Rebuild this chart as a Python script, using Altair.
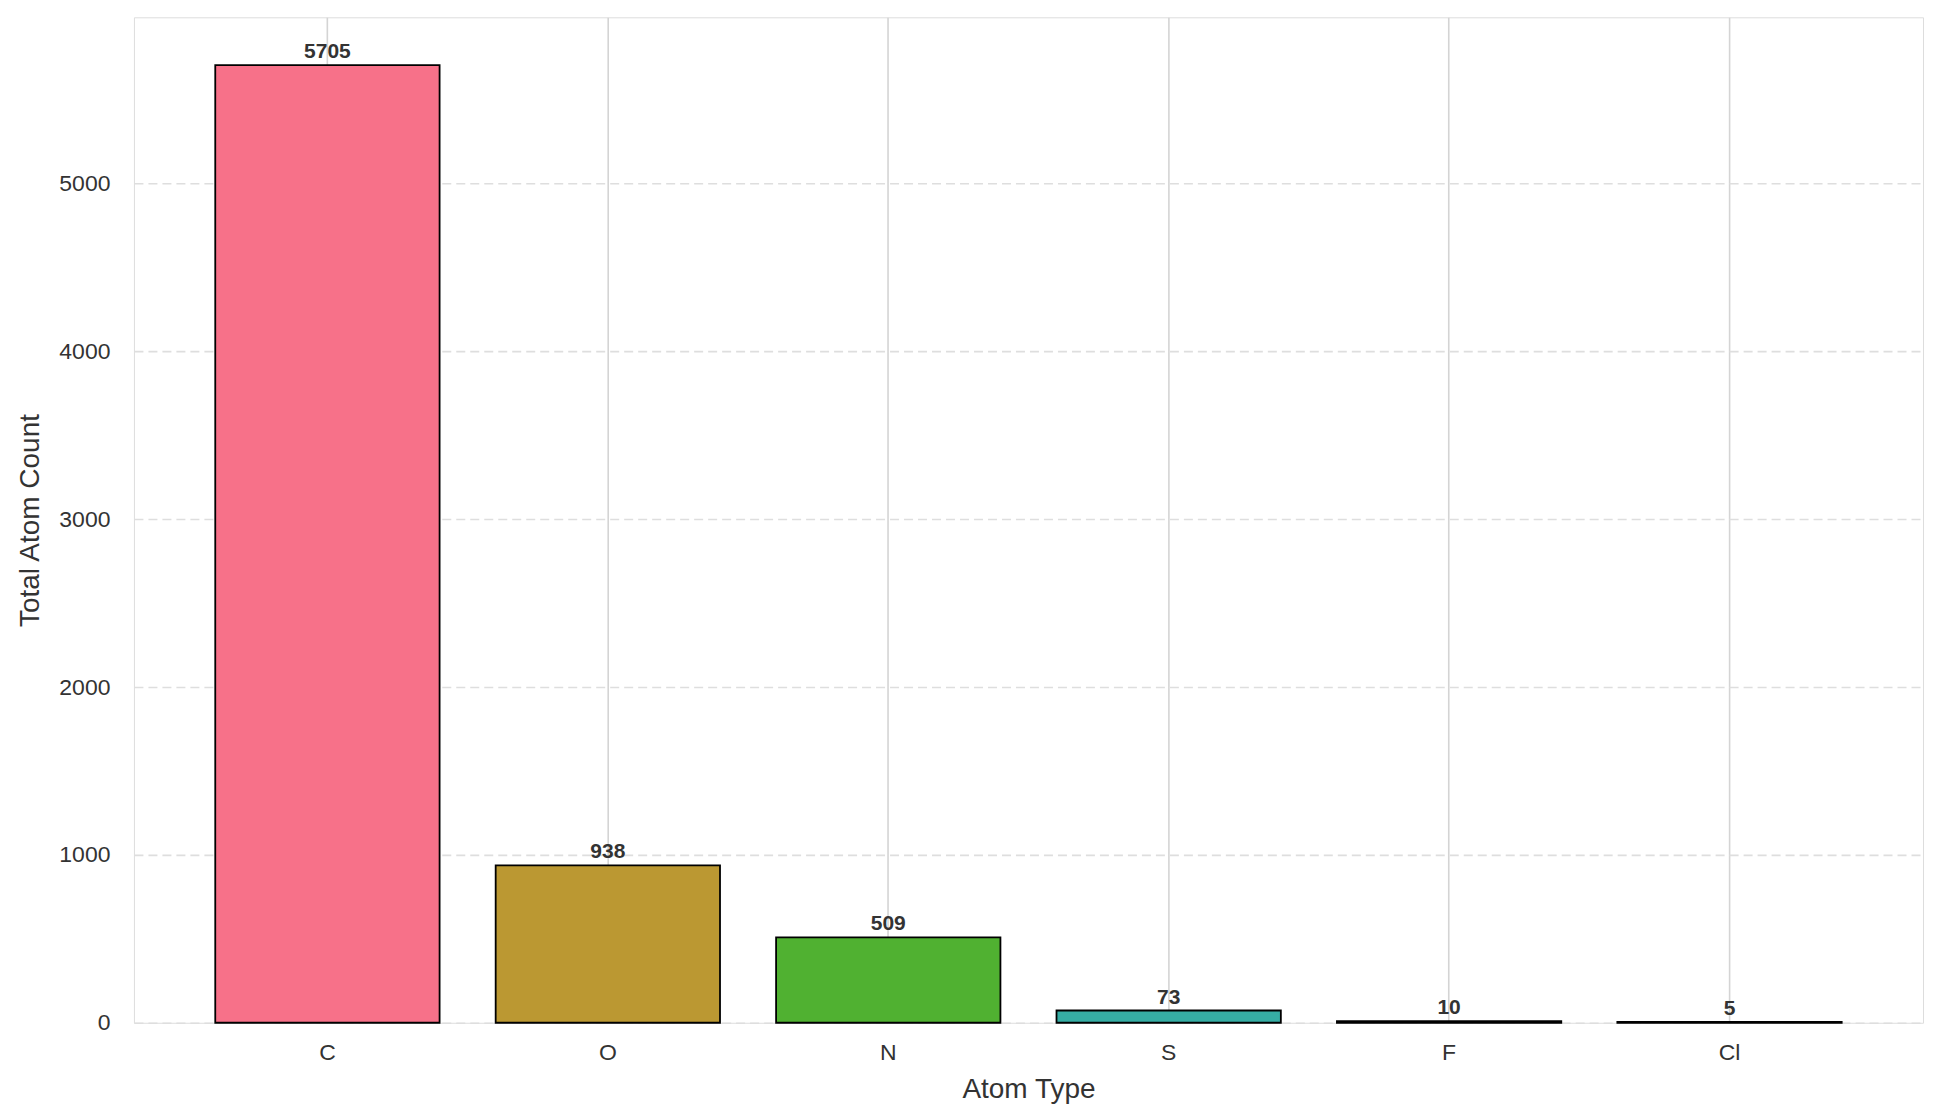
import altair as alt
import pandas as pd

atoms = ["C", "O", "N", "S", "F", "Cl"]
counts = [5705, 938, 509, 73, 10, 5]
colors = ["#f77189", "#bb9832", "#50b131", "#36ada4", "#3ba3ec", "#e866f4"]

df = pd.DataFrame({"atom": atoms, "count": counts})

FONT = "Liberation Sans"

x = alt.X("atom:N", sort=atoms, title="Atom Type",
          scale=alt.Scale(paddingInner=0.2, paddingOuter=0.29),
          axis=alt.Axis(labelAngle=0, labelFontSize=23, titleFontSize=28,
                        labelPadding=19, titlePadding=11, tickSize=0,
                        domain=False, grid=True, gridColor="#d4d4d4",
                        gridWidth=1.6, bandPosition=0.5,
                        labelColor="#333333", titleColor="#333333",
                        labelFont=FONT, titleFont=FONT, titleFontWeight="normal"))

y = alt.Y("count:Q", title="Total Atom Count",
          scale=alt.Scale(domain=[0, 5990], nice=False, zero=True),
          axis=alt.Axis(values=[0, 1000, 2000, 3000, 4000, 5000], format="d",
                        labelFontSize=23, titleFontSize=28, labelPadding=24,
                        titlePadding=14, tickSize=0, domain=False,
                        grid=True, gridColor="#dedede", gridWidth=1.6,
                        gridDash=[9, 5], labelColor="#333333",
                        titleColor="#333333", labelFont=FONT, titleFont=FONT,
                        titleFontWeight="normal"))

bars = alt.Chart(df).mark_bar(stroke="black", strokeWidth=1.8).encode(
    x=x, y=y,
    color=alt.Color("atom:N", sort=atoms,
                    scale=alt.Scale(domain=atoms, range=colors), legend=None),
)

labels = alt.Chart(df).mark_text(baseline="bottom", dy=-3, fontSize=21,
                                 fontWeight="bold", font=FONT,
                                 color="#333333").encode(
    x=alt.X("atom:N", sort=atoms),
    y=alt.Y("count:Q"),
    text=alt.Text("count:Q"),
)

chart = alt.layer(bars, labels).properties(
    width=1790, height=1006,
    autosize=alt.AutoSizeParams(type="none"),
    padding={"left": 126, "top": 9, "right": 10, "bottom": 90},
).configure_view(stroke="#cccccc", strokeWidth=2.5).configure(background="white")

chart.save("out.html", embed_options={"renderer": "svg", "actions": False})
